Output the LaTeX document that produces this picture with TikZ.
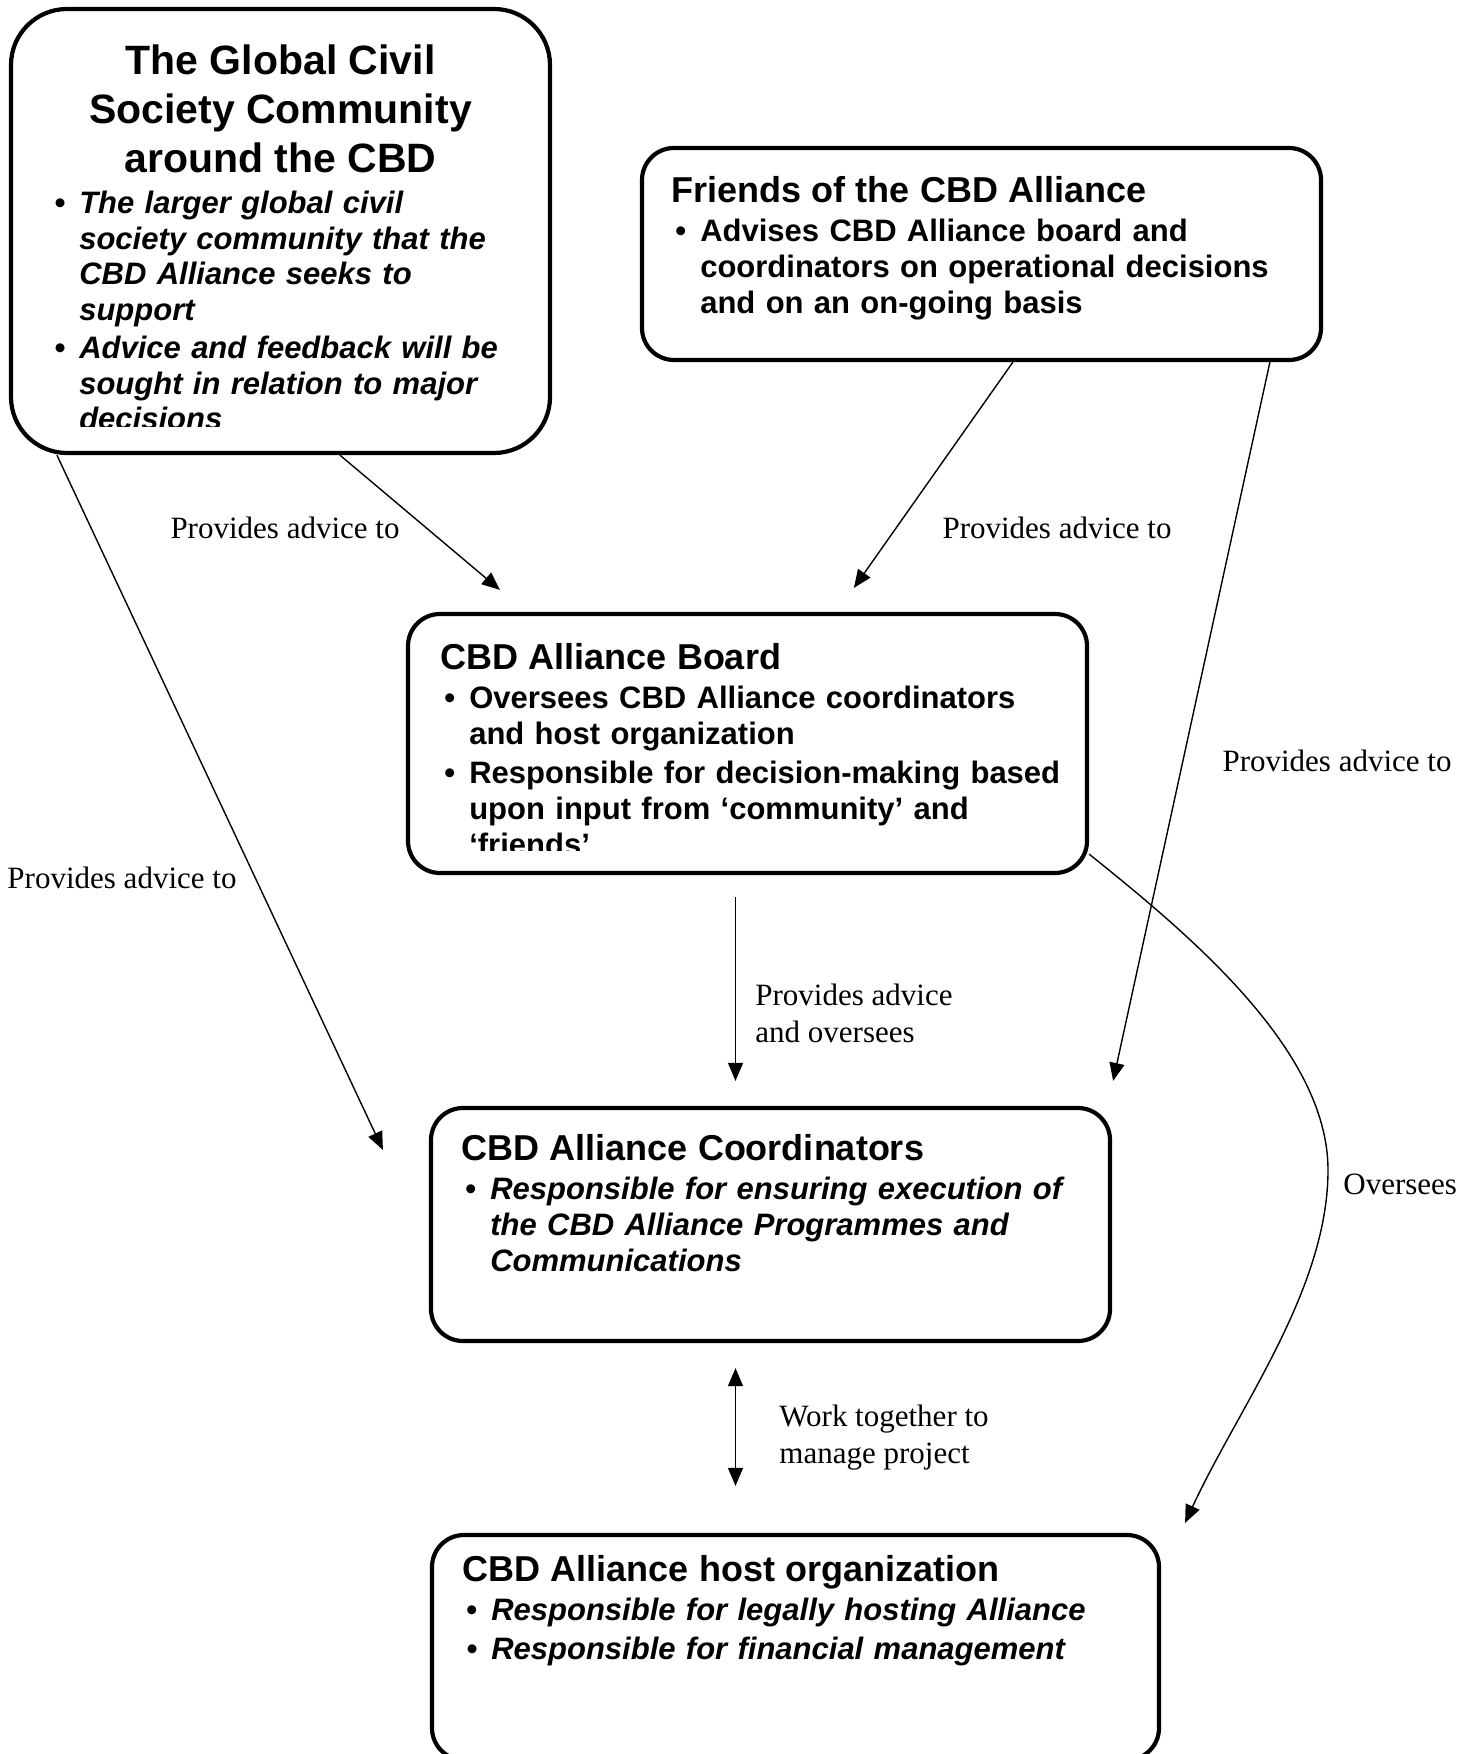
\documentclass[tikz,border=0pt]{standalone}
\usepackage{fontspec}
\setmainfont{Liberation Serif}
\newfontfamily\arialfont{Liberation Sans}
\usetikzlibrary{arrows.meta,calc}

\newcommand{\bitem}[1]{\par\hangindent=14.5pt\hangafter=1\noindent\hbox to 14.5pt{\hspace{2pt}\textbullet\hfil}#1\par}

\begin{document}
\begin{tikzpicture}[x=0.5pt,y=-0.5pt,
	box/.style={draw, line width=2.1pt, rounded corners=16pt, inner sep=0pt},
	boxtxt/.style={anchor=north west, inner sep=0pt, text width=330pt, align=left, font=\arialfont\bfseries\fontsize{15.5}{18}\selectfont, execute at begin node={\setlength{\parskip}{1.5pt}}},
	lbl/.style={inner sep=0pt, align=left, font=\fontsize{15.5}{18.5}\selectfont},
	arr/.style={-{Triangle[length=9pt,width=7.5pt]}, line width=0.7pt},
	dblarr/.style={{Triangle[length=9pt,width=7.5pt]}-{Triangle[length=9pt,width=7.5pt]}, line width=0.7pt}]
	\useasboundingbox (0,0) rectangle (1470,1754);
	% boxes
	\node[box, rounded corners=28pt, minimum width=269.5pt, minimum height=222pt] (comm) at (280.5,231) {};
	\node[box, minimum width=339.5pt, minimum height=106pt] (friends) at (981.5,254) {};
	\node[box, minimum width=339.5pt, minimum height=129.5pt] (board) at (747.5,743.5) {};
	\node[box, minimum width=339.5pt, minimum height=116.5pt] (coord) at (770.5,1224.5) {};
	\node[box, minimum width=363.5pt, minimum height=112.5pt] (host) at (795.5,1647.5) {};
	% box texts
	\node[anchor=north, inner sep=0pt, align=center, font=\arialfont\bfseries\fontsize{20.5}{24.5}\selectfont] (commtitle) at ($(comm.north)+(0,37)$) {The Global Civil\\Society Community\\around the CBD};
	\begin{scope}
		\clip (comm.north west) rectangle ($(comm.south east)+(0,-29)$);
		\node[boxtxt, font=\arialfont\bfseries\itshape\fontsize{15.5}{17.75}\selectfont] (commtxt) at ($(comm.north west)+(41,168)$) {%
			\bitem{The larger global civil\newline society community that the\newline CBD Alliance seeks to\newline support}
			\bitem{Advice and feedback will be\newline sought in relation to major\newline decisions}};
	\end{scope}
	\node[boxtxt] (friendstxt) at ($(friends.north west)+(31,30)$) {%
		{\fontsize{18}{19.5}\selectfont Friends of the CBD Alliance\par}
		\bitem{Advises CBD Alliance board and\newline coordinators on operational decisions\newline and on an on-going basis}};
	\begin{scope}
		\clip (board.north west) rectangle ($(board.south east)+(0,-25)$);
		\node[boxtxt] (boardtxt) at ($(board.north west)+(34,31)$) {%
			{\fontsize{18}{19.5}\selectfont CBD Alliance Board\par}
			\bitem{Oversees CBD Alliance coordinators\newline and host organization}
			\bitem{Responsible for decision-making based\newline upon input from ‘community’ and\newline ‘friends’}};
	\end{scope}
	\node[boxtxt] (coordtxt) at ($(coord.north west)+(32,28)$) {%
		{\fontsize{18}{19.5}\selectfont CBD Alliance Coordinators\par}
		\bitem{\itshape Responsible for ensuring execution of\newline the CBD Alliance Programmes and\newline Communications}};
	\node[boxtxt] (hosttxt) at ($(host.north west)+(32,22)$) {%
		{\fontsize{18}{19.5}\selectfont CBD Alliance host organization\par}
		\bitem{\itshape Responsible for legally hosting Alliance}
		\bitem{\itshape Responsible for financial management}};
	% connectors
	\draw[arr] ($(comm.south west)+(331,0)$) -- ($(board.north west)+(94,-22)$);
	\draw[arr] ($(friends.south west)+(373,0)$) -- ($(board.north west)+(448,-24)$);
	\draw[arr] ($(comm.south west)+(48,0)$) -- ($(coord.north west)+(-46,44)$);
	\draw[arr] ($(friends.south west)+(630,0)$) -- ($(coord.north east)+(1,-25)$);
	\draw[arr] ($(board.south)+(-12,22)$) -- ($(coord.north)+(-35,-25)$);
	\draw[dblarr] ($(coord.south)+(-35,25)$) -- ($(host.north)+(-60,-47)$);
	\draw[arr] ($(board.south east)+(0,-21)$) .. controls (1190,935) and (1328,1050) .. (1328,1170)
		.. controls (1328,1290) and (1238,1408) .. ($(host.north east)+(24,-10)$);
	% labels
	\node[lbl] (l1) at (285,528) {Provides advice to};
	\node[lbl] (l2) at (1057,528) {Provides advice to};
	\node[lbl] (l3) at (1337,761) {Provides advice to};
	\node[lbl] (l4) at (122,878) {Provides advice to};
	\node[lbl, anchor=west] (l5) at (755,1013) {Provides advice\\and oversees};
	\node[lbl, anchor=west] (l6) at (1343,1184) {Oversees};
	\node[lbl, anchor=west] (l7) at (779,1438) {Work together to\\manage project};
\end{tikzpicture}
\end{document}
